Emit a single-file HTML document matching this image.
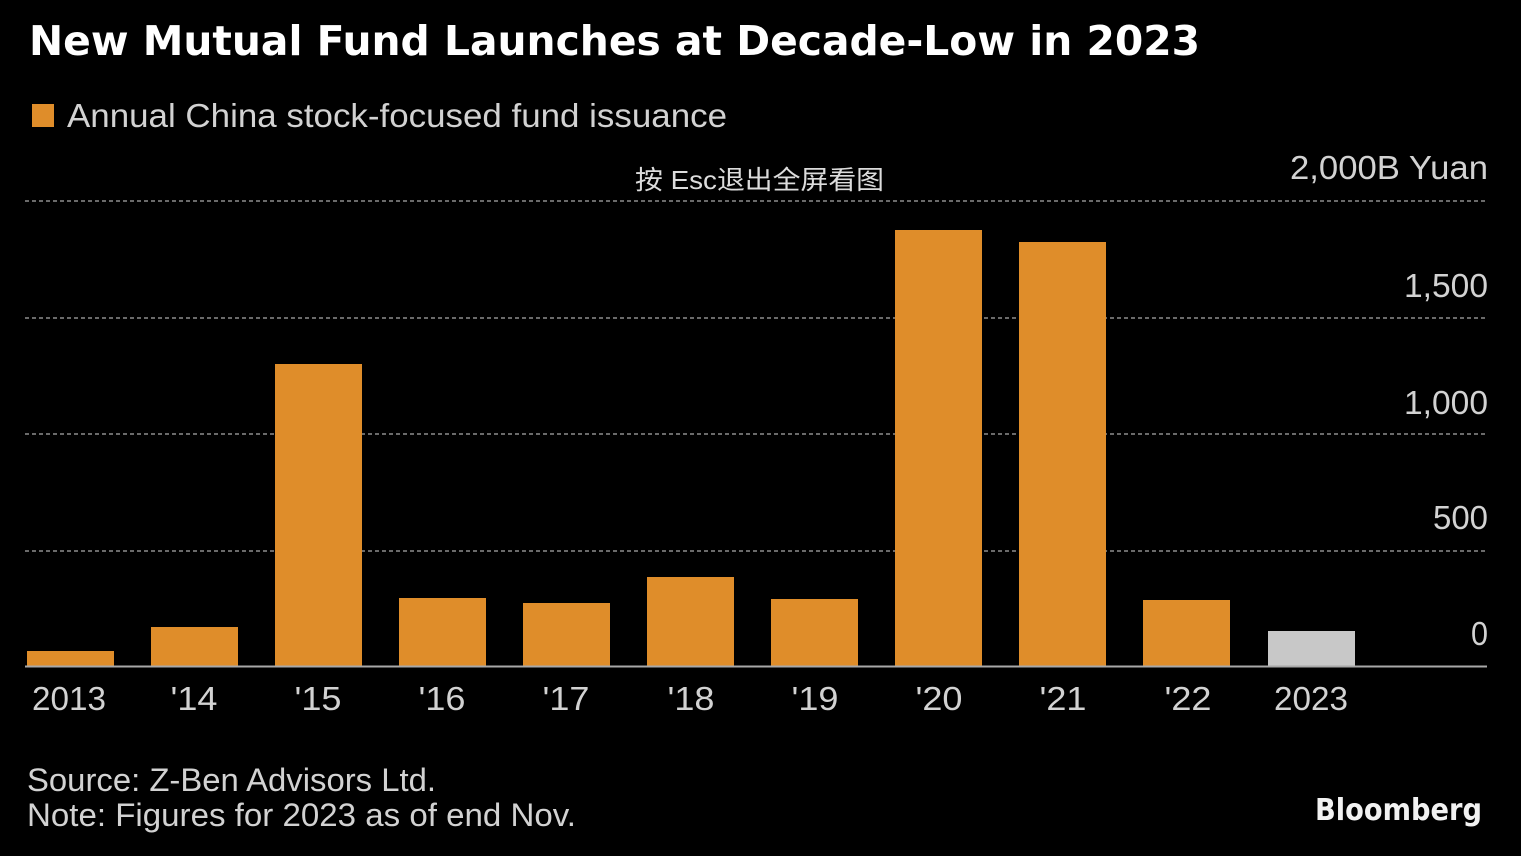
<!DOCTYPE html>
<html>
<head>
<meta charset="utf-8">
<style>
  html, body { margin: 0; padding: 0; background: #000; }
  body { width: 1521px; height: 856px; overflow: hidden; }
  svg { display: block; }
  .lab { font-family: "Liberation Sans Narrow", "Liberation Sans", sans-serif; fill: #d2d2d2; }
</style>
</head>
<body>
<svg width="1521" height="856" viewBox="0 0 1521 856" xmlns="http://www.w3.org/2000/svg">
  <rect x="0" y="0" width="1521" height="856" fill="#000"/>

  <!-- Title -->
  <text x="29" y="55" font-family="'DejaVu Sans', 'Liberation Sans', sans-serif" font-weight="bold" font-size="41" fill="#ffffff" textLength="1171" lengthAdjust="spacingAndGlyphs">New Mutual Fund Launches at Decade-Low in 2023</text>

  <!-- Legend -->
  <rect x="32" y="104" width="22" height="23" fill="#df8d2a"/>
  <text class="lab" x="67" y="127" font-size="33" textLength="660" lengthAdjust="spacingAndGlyphs">Annual China stock-focused fund issuance</text>

  <!-- Overlay text -->
  <text x="635" y="189" font-family="'Liberation Sans', 'Noto Sans CJK SC', sans-serif" font-size="26" fill="#dcdcdc" textLength="249" lengthAdjust="spacingAndGlyphs">按 Esc退出全屏看图</text>

  <!-- Gridlines -->
  <g stroke="#6a6a6a" stroke-width="2" stroke-dasharray="4 3">
    <line x1="25" y1="201" x2="1488" y2="201"/>
    <line x1="25" y1="318" x2="1488" y2="318"/>
    <line x1="25" y1="434" x2="1488" y2="434"/>
    <line x1="25" y1="551" x2="1488" y2="551"/>
  </g>

  <!-- Y labels -->
  <g class="lab" font-size="33" text-anchor="end">
    <text x="1488" y="179" textLength="198" lengthAdjust="spacingAndGlyphs">2,000B Yuan</text>
    <text x="1488" y="297" textLength="84" lengthAdjust="spacingAndGlyphs">1,500</text>
    <text x="1488" y="414" textLength="84" lengthAdjust="spacingAndGlyphs">1,000</text>
    <text x="1488" y="529" textLength="55" lengthAdjust="spacingAndGlyphs">500</text>
    <text x="1488" y="645" textLength="17" lengthAdjust="spacingAndGlyphs">0</text>
  </g>

  <!-- Bars -->
  <g fill="#df8d2a">
    <rect x="27" y="651" width="87" height="16"/>
    <rect x="151" y="627" width="87" height="40"/>
    <rect x="275" y="364" width="87" height="303"/>
    <rect x="399" y="598" width="87" height="69"/>
    <rect x="523" y="603" width="87" height="64"/>
    <rect x="647" y="577" width="87" height="90"/>
    <rect x="771" y="599" width="87" height="68"/>
    <rect x="895" y="230" width="87" height="437"/>
    <rect x="1019" y="242" width="87" height="425"/>
    <rect x="1143" y="600" width="87" height="67"/>
  </g>
  <rect x="1268" y="631" width="87" height="36" fill="#c8c8c8"/>

  <!-- Axis baseline -->
  <line x1="25" y1="666.5" x2="1487" y2="666.5" stroke="#a8a8a8" stroke-width="2"/>

  <!-- X labels -->
  <g class="lab" font-size="33" text-anchor="middle">
    <text x="69" y="710" textLength="74" lengthAdjust="spacingAndGlyphs">2013</text>
    <text x="194" y="710" textLength="47" lengthAdjust="spacingAndGlyphs">'14</text>
    <text x="318" y="710" textLength="47" lengthAdjust="spacingAndGlyphs">'15</text>
    <text x="442" y="710" textLength="47" lengthAdjust="spacingAndGlyphs">'16</text>
    <text x="566" y="710" textLength="47" lengthAdjust="spacingAndGlyphs">'17</text>
    <text x="691" y="710" textLength="47" lengthAdjust="spacingAndGlyphs">'18</text>
    <text x="815" y="710" textLength="47" lengthAdjust="spacingAndGlyphs">'19</text>
    <text x="939" y="710" textLength="47" lengthAdjust="spacingAndGlyphs">'20</text>
    <text x="1063" y="710" textLength="47" lengthAdjust="spacingAndGlyphs">'21</text>
    <text x="1188" y="710" textLength="47" lengthAdjust="spacingAndGlyphs">'22</text>
    <text x="1311" y="710" textLength="74" lengthAdjust="spacingAndGlyphs">2023</text>
  </g>

  <!-- Footer -->
  <g class="lab" font-size="32">
    <text x="27" y="791" textLength="409" lengthAdjust="spacingAndGlyphs">Source: Z-Ben Advisors Ltd.</text>
    <text x="27" y="826" textLength="549" lengthAdjust="spacingAndGlyphs">Note: Figures for 2023 as of end Nov.</text>
  </g>

  <text x="1315" y="820" font-family="'DejaVu Sans', 'Liberation Sans', sans-serif" font-weight="bold" font-size="30" fill="#f2f2f2" textLength="167" lengthAdjust="spacingAndGlyphs">Bloomberg</text>
</svg>
</body>
</html>
